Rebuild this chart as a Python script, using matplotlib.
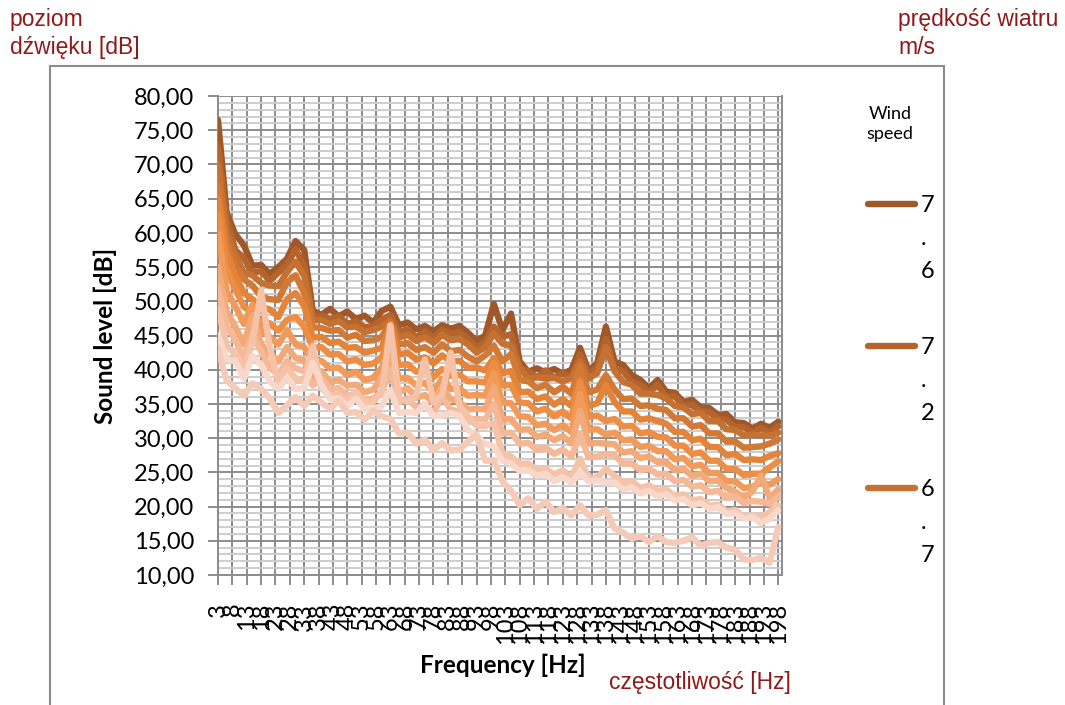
import numpy as np
import matplotlib.pyplot as plt
from matplotlib.lines import Line2D
from matplotlib.patches import Rectangle

# Frequencies [Hz] (every 3 Hz) and wind speeds [m/s]
freq = list(range(3, 199, 3))
speeds = ['7.6', '7.2', '6.7', '6.3', '5.8', '5.4', '4.9', '4.5', '4.0', '3.6', '3.1', '2.7']

s76 = [76.5, 63.0, 59.8, 58.2, 55.2, 55.3, 54.0, 55.0, 56.2, 58.8,
       57.5, 48.6, 48.0, 48.9, 47.8, 48.5, 47.4, 47.9, 46.9, 48.6,
       49.2, 46.5, 46.9, 45.9, 46.4, 45.6, 46.5, 46.0, 46.4, 45.4,
       44.2, 45.0, 49.6, 45.8, 48.2, 41.2, 39.7, 40.2, 39.6, 40.1,
       39.4, 40.0, 43.2, 39.8, 41.0, 46.3, 41.2, 40.7, 39.2, 38.5,
       37.3, 38.5, 36.8, 36.6, 35.3, 35.6, 34.5, 34.4, 33.4, 33.5,
       32.3, 32.2, 31.4, 32.1, 31.5, 32.4]
s72 = [72.5, 62.0, 57.5, 56.3, 54.2, 54.4, 53.0, 54.2, 55.3, 57.6,
       55.2, 47.7, 47.9, 47.4, 47.8, 46.7, 47.1, 46.2, 46.4, 47.3,
       48.0, 45.5, 45.9, 44.7, 45.6, 44.7, 45.8, 45.3, 45.5, 44.5,
       43.3, 44.1, 46.3, 44.8, 45.2, 40.2, 39.8, 38.9, 39.9, 38.8,
       39.5, 38.7, 42.2, 39.2, 40.3, 44.5, 40.2, 39.8, 38.2, 37.8,
       36.7, 37.8, 36.0, 36.1, 34.7, 34.9, 33.9, 33.8, 32.8, 32.7,
       31.6, 31.6, 30.8, 31.5, 30.8, 31.7]
s67 = [70.0, 60.0, 56.8, 54.2, 53.8, 52.7, 52.3, 52.2, 54.3, 55.8,
       53.7, 47.2, 47.3, 46.7, 47.1, 46.2, 46.3, 45.5, 45.8, 46.3,
       47.2, 44.7, 45.1, 44.2, 44.8, 43.9, 45.1, 44.3, 44.5, 43.7,
       42.5, 43.3, 45.3, 43.8, 43.5, 40.3, 38.7, 38.9, 38.7, 38.8,
       38.3, 38.8, 41.2, 38.7, 39.5, 43.3, 39.8, 38.2, 37.8, 36.5,
       36.5, 36.3, 35.8, 34.7, 34.5, 33.5, 33.7, 32.5, 32.5, 31.3,
       31.2, 30.4, 30.5, 30.4, 30.4, 30.8]
s63 = [67.0, 58.5, 55.3, 53.2, 52.3, 50.7, 50.3, 50.2, 52.8, 53.8,
       51.2, 46.2, 46.1, 45.7, 45.8, 44.7, 45.1, 44.2, 44.3, 44.8,
       46.9, 43.7, 43.9, 42.9, 43.3, 42.5, 43.7, 42.7, 42.9, 41.9,
       41.2, 42.1, 43.5, 41.2, 42.3, 38.5, 38.3, 37.3, 37.8, 36.7,
       37.5, 36.5, 40.5, 36.7, 37.1, 39.2, 37.1, 35.7, 35.8, 34.7,
       34.8, 34.3, 34.1, 32.9, 32.9, 31.7, 31.9, 30.7, 30.7, 29.5,
       29.5, 28.6, 28.7, 28.8, 29.2, 29.8]
s58 = [65.0, 57.0, 53.8, 51.2, 50.3, 49.2, 48.8, 47.7, 50.3, 51.2,
       49.3, 44.7, 44.8, 43.9, 44.1, 43.2, 43.3, 42.5, 42.8, 43.2,
       46.5, 42.2, 42.5, 41.5, 41.8, 40.9, 42.1, 41.2, 41.3, 40.3,
       40.3, 39.9, 41.7, 39.5, 39.8, 36.7, 36.8, 35.7, 36.1, 34.9,
       35.7, 34.7, 38.5, 34.7, 35.1, 37.8, 35.3, 33.9, 33.9, 32.7,
       32.9, 32.5, 32.1, 30.9, 30.9, 29.7, 29.9, 28.7, 28.7, 27.5,
       27.7, 26.8, 26.9, 26.8, 27.4, 27.8]
s54 = [62.5, 54.5, 51.8, 49.2, 48.3, 46.7, 46.8, 45.7, 47.3, 47.7,
       46.3, 43.2, 43.3, 42.2, 42.3, 41.2, 41.5, 40.7, 40.9, 41.8,
       45.0, 40.7, 40.8, 39.7, 39.9, 38.9, 40.1, 39.1, 39.3, 38.3,
       38.3, 38.1, 41.0, 37.7, 37.8, 35.2, 35.1, 33.9, 34.3, 33.2,
       33.9, 32.9, 38.0, 33.1, 33.3, 32.5, 32.8, 31.7, 31.8, 30.7,
       30.9, 30.2, 30.1, 28.9, 28.9, 27.7, 27.9, 26.7, 26.7, 25.5,
       25.5, 24.6, 24.8, 24.8, 25.7, 26.6]
s49 = [60.0, 51.5, 49.3, 46.7, 49.5, 45.7, 44.8, 43.7, 45.8, 43.7,
       43.3, 41.2, 41.3, 40.2, 40.3, 39.2, 39.7, 38.5, 38.8, 40.3,
       43.0, 38.7, 38.8, 37.7, 38.1, 36.7, 38.7, 37.2, 37.3, 36.2,
       36.3, 36.2, 39.5, 35.2, 35.1, 33.2, 33.1, 31.9, 32.1, 31.2,
       31.9, 30.9, 36.5, 31.2, 31.3, 30.5, 30.8, 29.7, 29.8, 28.7,
       28.9, 28.1, 28.1, 26.9, 27.1, 25.9, 26.1, 24.9, 24.9, 23.7,
       23.7, 22.7, 22.9, 23.5, 23.2, 24.0]
s45 = [55.0, 48.5, 46.3, 43.7, 48.0, 43.7, 42.3, 41.2, 43.3, 41.7,
       41.3, 38.7, 39.8, 38.2, 38.5, 37.7, 37.8, 36.7, 37.1, 38.8,
       41.5, 36.7, 37.3, 35.9, 36.3, 35.2, 37.5, 35.7, 35.3, 34.2,
       34.3, 34.2, 37.5, 32.7, 32.8, 31.2, 31.3, 30.2, 30.5, 29.7,
       30.3, 29.2, 34.0, 29.2, 29.3, 29.2, 29.1, 27.9, 28.1, 27.1,
       27.3, 26.5, 26.5, 25.3, 25.5, 24.5, 24.8, 23.7, 23.8, 22.7,
       22.2, 21.3, 22.2, 24.5, 21.3, 22.5]
s40 = [52.0, 46.5, 44.3, 41.7, 45.0, 42.7, 40.3, 39.2, 41.3, 40.2,
       39.8, 37.7, 38.8, 37.2, 37.3, 36.2, 36.5, 35.5, 35.8, 36.7,
       40.0, 35.2, 35.8, 34.5, 34.8, 33.7, 36.0, 34.2, 33.8, 32.7,
       32.8, 32.7, 35.0, 30.7, 30.8, 29.2, 29.3, 28.3, 28.6, 27.7,
       28.3, 27.3, 30.5, 27.2, 27.3, 27.7, 27.5, 26.3, 26.3, 25.3,
       25.5, 24.7, 24.8, 23.7, 23.9, 22.9, 23.1, 22.1, 22.3, 21.3,
       21.5, 20.5, 20.8, 20.7, 20.4, 21.5]
s36 = [49.0, 43.5, 42.3, 40.2, 44.0, 51.5, 43.3, 38.2, 40.3, 38.7,
       38.3, 43.5, 37.3, 36.2, 36.3, 35.5, 36.8, 35.2, 35.3, 36.7,
       46.5, 35.7, 35.3, 36.2, 41.5, 35.2, 36.3, 42.5, 34.8, 33.2,
       31.8, 31.7, 32.3, 27.7, 27.3, 26.2, 26.3, 25.3, 25.5, 24.7,
       25.3, 24.3, 27.0, 24.1, 24.3, 25.5, 24.5, 23.5, 23.7, 22.7,
       23.1, 22.3, 22.5, 21.5, 21.8, 20.9, 21.1, 20.1, 20.3, 19.3,
       19.5, 18.5, 18.7, 18.5, 19.2, 20.2]
s31 = [45.0, 41.5, 41.3, 38.7, 42.0, 40.7, 38.3, 37.2, 38.8, 37.2,
       37.3, 41.0, 37.8, 35.7, 35.8, 34.7, 35.8, 34.2, 34.3, 34.7,
       37.0, 33.7, 33.8, 33.7, 35.0, 33.2, 33.3, 33.7, 33.3, 31.2,
       30.3, 29.2, 28.8, 26.7, 26.3, 25.2, 25.3, 24.5, 24.8, 23.7,
       24.3, 23.5, 25.0, 23.7, 23.8, 23.5, 23.5, 22.5, 22.8, 21.9,
       22.3, 21.5, 21.8, 20.9, 21.1, 20.2, 20.5, 19.7, 19.9, 18.9,
       19.1, 18.2, 18.5, 17.6, 18.2, 19.5]
s27 = [43.0, 38.5, 37.3, 36.2, 38.0, 37.2, 35.8, 33.7, 34.8, 36.0,
       34.7, 36.2, 35.2, 34.3, 35.5, 33.7, 33.8, 32.7, 34.0, 33.2,
       32.8, 30.7, 30.8, 29.2, 29.8, 28.2, 29.3, 28.2, 28.3, 29.5,
       30.5, 26.7, 26.8, 23.7, 22.3, 20.2, 21.2, 19.7, 20.7, 19.2,
       19.8, 18.7, 20.2, 18.7, 18.8, 19.5, 16.8, 16.2, 15.3, 15.7,
       14.8, 15.7, 14.8, 14.7, 15.0, 15.5, 14.3, 14.7, 14.8, 14.0,
       13.7, 12.3, 12.2, 12.5, 11.8, 17.0]

series = [s76, s72, s67, s63, s58, s54, s49, s45, s40, s36, s31, s27]
colors = ['#A0572A', '#B5642C', '#C47132', '#D27935', '#E3843A', '#EE8E45',
          '#F29A5A', '#F4AA78', '#F6B896', '#F7C3A8', '#F9D8CC', '#F5CBB8']

W, H = 1065, 705
red = '#8E1A1A'
plt.rcParams['font.family'] = ['Lato', 'DejaVu Sans']

fig = plt.figure(figsize=(W / 100, H / 100), dpi=100)
ax = fig.add_axes([218 / W, 1 - 575 / H, (782 - 218) / W, (575 - 96) / H])

lines = []
for vals, c, lbl in zip(series, colors, speeds):
    ln, = ax.plot(freq, vals, color=c, lw=4.6, solid_joinstyle='round',
                  solid_capstyle='round', label=lbl, zorder=3)
    lines.append(ln)

ax.set_xlim(3, 199.3)
ax.set_ylim(10, 80)
yt = list(range(10, 81, 5))
ax.set_yticks(yt)
ax.set_yticks(list(range(10, 81)), minor=True)
ax.set_yticklabels([f'{v:.2f}'.replace('.', ',') for v in yt], fontsize=17)
xt = list(range(3, 199, 5))
ax.set_xticks(xt)
ax.set_xticklabels([str(v) for v in xt], rotation=90, fontsize=17)

ax.grid(which='major', color='#8c8c8c', lw=1.4)
ax.grid(which='minor', axis='y', color='#cdcdcd', lw=1.4)
ax.set_axisbelow(True)
ax.tick_params(which='minor', left=False)
ax.tick_params(which='major', length=7, width=1.4, color='#8c8c8c')
ax.tick_params(axis='y', pad=10)
ax.tick_params(axis='x', pad=13)
ax.spines['top'].set_visible(False)
for sp in ['left', 'bottom', 'right']:
    ax.spines[sp].set_color('#8c8c8c')
    ax.spines[sp].set_linewidth(1.4)

ax.set_ylabel('Sound level [dB]', fontsize=17.5, fontweight='bold', labelpad=12)
fig.text(503 / W, 1 - 665 / H, 'Frequency [Hz]', fontsize=17.5,
         fontweight='bold', ha='center', va='center')

# outer chart frame
fig.add_artist(Rectangle((50 / W, -0.1), (944 - 50) / W, 0.1 + 1 - 66 / H,
                         transform=fig.transFigure, fill=False,
                         edgecolor='#8c8c8c', lw=1.5))

# legend (only the first entries fit)
fig.text(890 / W, 1 - 124 / H, 'Wind\nspeed', fontsize=13, ha='center',
         va='center', linespacing=1.35)
for i in range(3):
    y = 1 - (204 + 142 * i) / H
    fig.add_artist(Line2D([868 / W, 915 / W], [y, y], color=colors[i], lw=4.6,
                          solid_capstyle='round', transform=fig.transFigure))
    fig.text(921 / W, y + 9 / H, '\n'.join(speeds[i]), fontsize=17,
             ha='left', va='top', linespacing=1.7)

# red annotations
fig.text(10 / W, 1 - 8 / H, 'poziom\ndźwięku [dB]', color=red, fontsize=16.5,
         family='Liberation Sans', ha='left', va='top', linespacing=1.3)
fig.text(898 / W, 1 - 8 / H, 'prędkość wiatru\nm/s', color=red, fontsize=16.5,
         family='Liberation Sans', ha='left', va='top', linespacing=1.3)
fig.text(609 / W, 1 - 683 / H, 'częstotliwość [Hz]', color=red, fontsize=16.5,
         family='Liberation Sans', ha='left', va='center')

fig.savefig('out.png', dpi=100)
